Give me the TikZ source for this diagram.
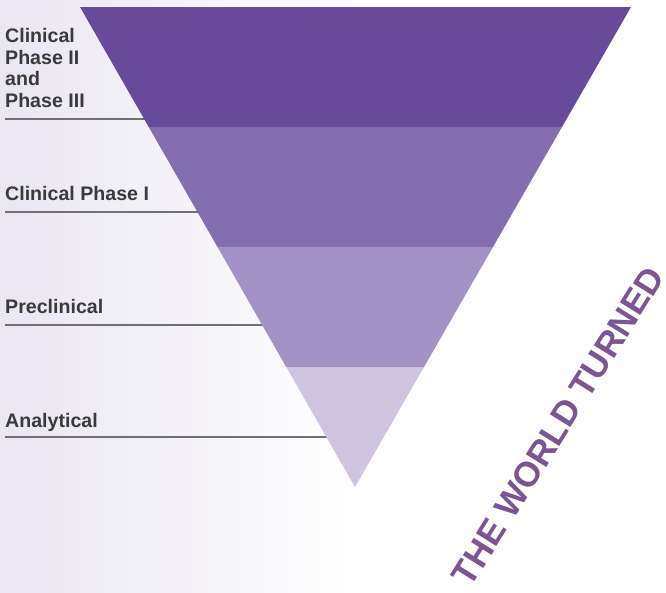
\documentclass[tikz,border=0pt]{standalone}
\usepackage{fontspec}
\setmainfont{Liberation Sans}
\begin{document}
\definecolor{bgl}{HTML}{EAE6F2}
\definecolor{bandA}{HTML}{684A9B}
\definecolor{bandB}{HTML}{856EB0}
\definecolor{bandC}{HTML}{A392C6}
\definecolor{bandD}{HTML}{CEC4E0}
\definecolor{labelc}{HTML}{3A3A3A}
\definecolor{rulec}{HTML}{707070}
\definecolor{worldc}{HTML}{7A5592}
\begin{tikzpicture}[x=1pt,y=-1pt,
  label/.style={anchor=base west,inner sep=0pt,text=labelc,font=\fontsize{19.6}{21.4}\selectfont\bfseries,align=left},
  rule/.style={draw=rulec,line width=1.3pt}]
\useasboundingbox (0,0) rectangle (666,592);
% soft lavender-to-white backdrop
\shade[left color=bgl,right color=white] (0,0) rectangle (360,592);
\fill[white] (360,0) rectangle (666,592);

% stage labels
\node[label] (l1) at (5,107) {Clinical\\Phase II\\and\\Phase III};
\node[label] (l2) at (5,200) {Clinical Phase I};
\node[label] (l3) at (5,313) {Preclinical};
\node[label] (l4) at (5,427) {Analytical};

% rules under each label, ending under the funnel edge
\coordinate (r1a) at (5,119);  \coordinate (r1b) at (146,119);
\coordinate (r2a) at (5,212);  \coordinate (r2b) at (199,212);
\coordinate (r3a) at (5,325);  \coordinate (r3b) at (264,325);
\coordinate (r4a) at (5,437);  \coordinate (r4b) at (328,437);
\draw[rule] (r1a) -- (r1b);
\draw[rule] (r2a) -- (r2b);
\draw[rule] (r3a) -- (r3b);
\draw[rule] (r4a) -- (r4b);

% inverted funnel, four bands
\coordinate (tl) at (80,7);      \coordinate (tr) at (631,7);
\coordinate (al) at (148.75,127); \coordinate (ar) at (562,127);
\coordinate (bl) at (217.5,247); \coordinate (br) at (493,247);
\coordinate (cl) at (286.25,367); \coordinate (cr) at (424,367);
\coordinate (apex) at (355,487);
\fill[bandA] (tl) -- (tr) -- (ar) -- (al) -- cycle;
\fill[bandB] (al) -- (ar) -- (br) -- (bl) -- cycle;
\fill[bandC] (bl) -- (br) -- (cr) -- (cl) -- cycle;
\fill[bandD] (cl) -- (cr) -- (apex) -- cycle;

% slanted caption
\node[rotate=58,inner sep=0pt,text=worldc,font=\fontsize{35}{35}\selectfont\bfseries] (wt) at (558,426) {THE WORLD TURNED};
\end{tikzpicture}
\end{document}
